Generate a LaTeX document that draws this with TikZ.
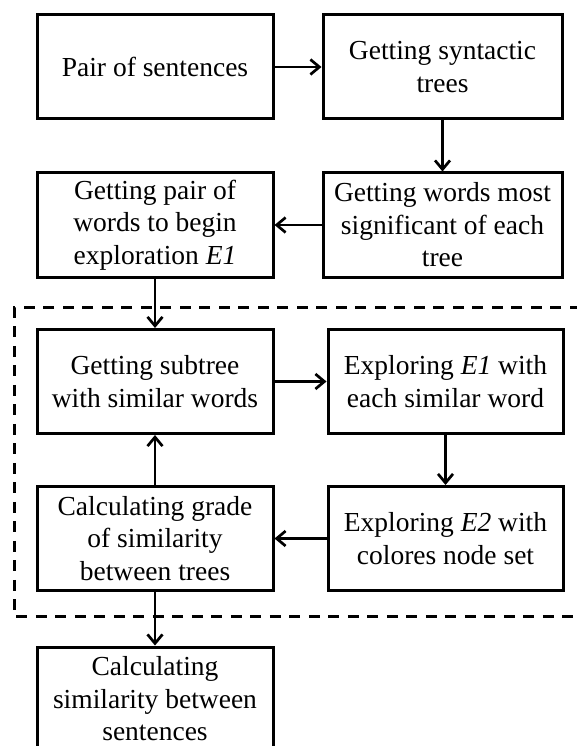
\documentclass[tikz,border=0pt]{standalone}
\usepackage{fontspec}
\setmainfont{Liberation Serif}
\usetikzlibrary{arrows.meta}
\begin{document}
\begin{tikzpicture}[x=1pt,y=1pt,
  box/.style={draw, line width=3pt, rectangle, align=center, minimum height=104pt, inner sep=0pt,
    font=\fontsize{27.5pt}{32.5pt}\selectfont},
  lbox/.style={box, minimum width=236pt},
  rbox/.style={box, minimum width=239pt},
  rrbox/.style={box, minimum width=235pt},
  conn/.style={line width=2.7pt, -{Straight Barb[length=9pt,width=15pt,line width=2.7pt]}},
  group/.style={line width=2.8pt, dash pattern=on 11pt off 8.5pt}
]
\useasboundingbox (0,0) rectangle (576,-746);
\node[lbox] (b1) at (155,-67) {Pair of sentences};
\node[rbox] (b2) at (442.5,-67) {Getting syntactic\\trees};
\node[rbox] (b3) at (442.5,-225) {Getting words most\\significant of each\\tree};
\node[lbox] (b4) at (155,-225) {Getting pair of\\words to begin\\exploration \textit{E1}};
\node[lbox] (b5) at (155,-381.5) {Getting subtree\\with similar words};
\node[rrbox] (b6) at (445.5,-381.5) {Exploring \textit{E1} with\\each similar word};
\node[lbox] (b7) at (155,-538.5) {Calculating grade\\of similarity\\between trees};
\node[rrbox] (b8) at (445.5,-538.5) {Exploring \textit{E2} with\\colores node set};
\node[lbox] (b9) at (155,-699) {Calculating\\similarity between\\sentences};
\coordinate (g1) at (600,-307.5);
\coordinate (g2) at (14.3,-307.5);
\coordinate (g3) at (14.3,-616.7);
\coordinate (g4) at (600,-616.7);
\draw[group] (g1) -- (g2) -- (g3) -- (g4);
\draw[conn] (b1) -- (b2);
\draw[conn] (b2) -- (b3);
\draw[conn] (b3) -- (b4);
\draw[conn] (b4) -- (b5);
\draw[conn] (b5) -- (b6);
\draw[conn] (b6) -- (b8);
\draw[conn] (b8) -- (b7);
\draw[conn] (b7) -- (b5);
\draw[conn] (b7) -- (b9);
\end{tikzpicture}
\end{document}
